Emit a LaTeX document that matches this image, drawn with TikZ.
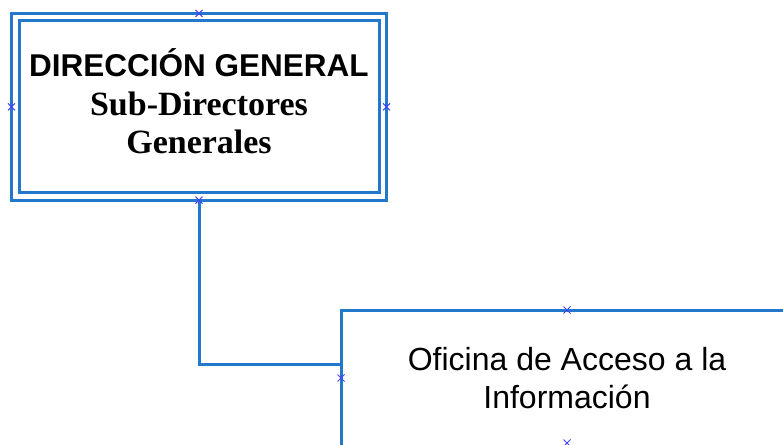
\documentclass[tikz,border=0pt]{standalone}
\usepackage{fontspec}
\usetikzlibrary{shapes.misc}
\newfontfamily\arialfont{Liberation Sans}
\newfontfamily\timesfont{Liberation Serif}
\definecolor{orgblue}{RGB}{34,120,205}
\definecolor{pointblue}{RGB}{70,70,240}

\begin{document}
	\begin{tikzpicture}[x=1pt, y=-1pt,
		unitbox/.style={draw=orgblue, line width=3pt, fill=white, inner sep=0pt, outer sep=0pt, align=center},
		wire/.style={draw=orgblue, line width=3pt},
		cpoint/.style={cross out, draw=pointblue, line width=1pt, minimum size=7pt, inner sep=0pt, outer sep=0pt}]
		% Paths, nodes and wires:
		\useasboundingbox (0,0) rectangle (783,444);
		\clip (0,0) rectangle (783,444);
		\node[unitbox, double=white, double distance=4.5pt, outer sep=3.75pt, minimum width=367.5pt, minimum height=179.2pt, text depth=11pt, font={\fontsize{32}{38.5}\selectfont}](DG) at (199,106.8){{\arialfont\bfseries\fontsize{31.5}{38.5}\selectfont DIRECCIÓN GENERAL}\\{\timesfont\bfseries\fontsize{34}{38.5}\selectfont Sub-Directores}\\{\timesfont\bfseries\fontsize{34}{38.5}\selectfont Generales}};
		\node[unitbox, minimum width=452pt, minimum height=136pt, font={\arialfont\fontsize{32}{38}\selectfont}](OAI) at (567,378){Oficina de Acceso a la\\Información};
		\draw[wire] (DG.south) |- ([yshift=14pt]OAI.west);
		\node[cpoint](DGn) at (DG.north){};
		\node[cpoint](DGw) at (DG.west){};
		\node[cpoint](DGe) at (DG.east){};
		\node[cpoint](DGs) at (DG.south){};
		\node[cpoint](OAIn) at (OAI.north){};
		\node[cpoint](OAIw) at (OAI.west){};
		\node[cpoint](OAIs) at ([yshift=3pt]OAI.south){};
	\end{tikzpicture}
\end{document}
